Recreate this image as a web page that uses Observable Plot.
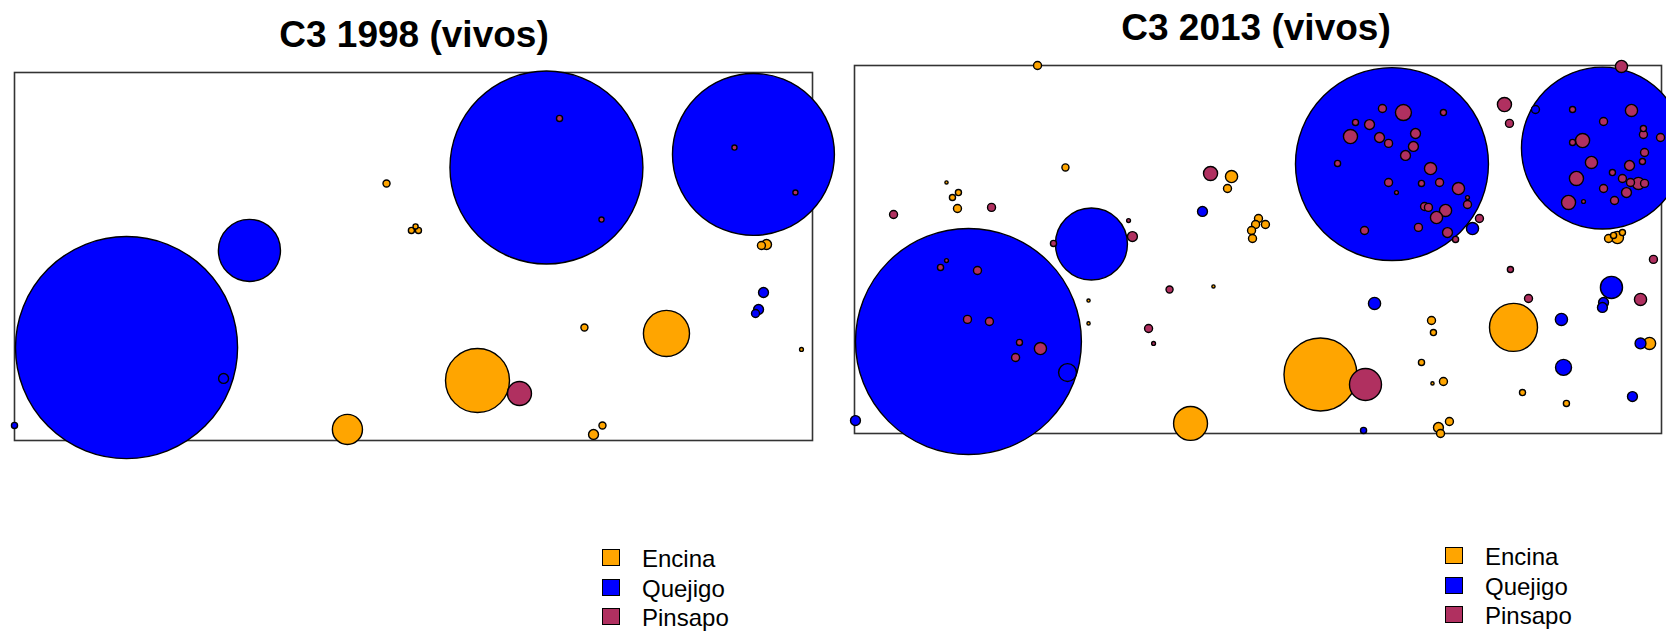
<!DOCTYPE html>
<html>
<head>
<meta charset="utf-8">
<script src="https://cdn.jsdelivr.net/npm/d3@7"></script>
<script src="https://cdn.jsdelivr.net/npm/@observablehq/plot@0.6"></script>
<style>
  html, body { margin: 0; padding: 0; background: #fff; }
  #fig { position: relative; width: 1666px; height: 633px; overflow: hidden;
         font-family: "Liberation Sans", Arial, sans-serif; }
  #fig svg { position: absolute; top: 0; overflow: visible; }
  .titulo { position: absolute; font-weight: bold; font-size: 37px; line-height: 1;
            white-space: nowrap; transform: translateX(-50%); color: #000; }
  .leyenda { position: absolute; font-size: 24px; line-height: 1; color: #000; }
  .fila { position: relative; height: 29.7px; white-space: nowrap; }
  .caja { position: absolute; left: 0; top: 2px; width: 16px; height: 15px;
          border: 1.6px solid #000; }
  .etiqueta { position: absolute; left: 40px; top: 0; }
</style>
</head>
<body>
<div id="fig"></div>
<script>
// Parcela C3: posición de cada pie (m) y radio de copa (m), por especie y año
const especies = ["Encina", "Quejigo", "Pinsapo"];
const colores = ["#FFA500", "#0000FF", "#B03060"];
const titulos = ["C3 1998 (vivos)", "C3 2013 (vivos)"];

// ---- 1998 ----  [x, y, radio]
const encina1998 = [
  [20.86, 0.69, 0.94], [23.31, 16.06, 0.22], [24.87, 13.13, 0.19], [25.31, 13.13, 0.19],
  [25.13, 13.38, 0.16], [47.12, 12.25, 0.31], [46.80, 12.19, 0.25], [49.31, 5.69, 0.12],
  [35.71, 7.06, 0.22], [40.85, 6.69, 1.44], [29.01, 3.75, 2.0], [36.28, 0.38, 0.31],
  [36.84, 0.94, 0.22]
];
const quejigo1998 = [
  [7.02, 5.81, 6.94], [14.72, 11.88, 1.94], [13.10, 3.88, 0.31], [0.0, 0.94, 0.19],
  [33.33, 17.06, 6.03], [46.30, 17.88, 5.06], [46.93, 9.25, 0.31], [46.62, 8.19, 0.31],
  [46.43, 7.94, 0.25]
];
const pinsapo1998 = [
  [31.64, 2.94, 0.75], [34.15, 20.13, 0.19], [36.78, 13.81, 0.16], [45.11, 18.31, 0.16],
  [48.93, 15.5, 0.16]
];

// ---- 2013 ----  [x, y, radio]
const encina2013 = [
  [11.34, 23.0, 0.25], [20.82, 0.63, 1.06], [13.07, 16.63, 0.22], [6.44, 15.06, 0.19],
  [6.07, 14.75, 0.19], [6.38, 14.06, 0.25], [5.70, 15.69, 0.1], [14.50, 8.31, 0.1],
  [14.50, 6.88, 0.1], [22.24, 9.19, 0.1], [23.36, 16.06, 0.38], [23.11, 15.31, 0.25],
  [25.03, 13.44, 0.25], [25.46, 13.06, 0.25], [24.85, 13.06, 0.25], [24.60, 12.69, 0.25],
  [24.66, 12.19, 0.25], [47.27, 12.25, 0.38], [46.72, 12.19, 0.25], [47.58, 12.56, 0.19],
  [47.03, 12.38, 0.19], [49.26, 5.63, 0.38], [35.75, 7.06, 0.25], [35.87, 6.31, 0.19],
  [40.83, 6.63, 1.5], [35.13, 4.44, 0.19], [36.49, 3.25, 0.25], [35.81, 3.13, 0.1],
  [41.39, 2.56, 0.19], [44.11, 1.88, 0.19], [36.18, 0.38, 0.31], [36.86, 0.75, 0.25],
  [36.31, 0.0, 0.25], [28.87, 3.69, 2.28]
];
const quejigo2013 = [
  [7.06, 5.75, 7.06], [14.68, 11.84, 2.25], [13.20, 3.81, 0.56], [0.06, 0.81, 0.31],
  [33.30, 16.84, 6.03], [46.34, 17.84, 5.06], [21.56, 13.88, 0.31], [38.29, 12.81, 0.38],
  [42.19, 20.25, 0.25], [46.90, 9.13, 0.69], [46.41, 8.19, 0.31], [46.34, 7.88, 0.31],
  [32.22, 8.13, 0.38], [43.80, 7.13, 0.38], [43.93, 4.13, 0.5], [48.70, 5.63, 0.34],
  [48.20, 2.31, 0.31], [31.54, 0.19, 0.19]
];
const pinsapo2013 = [
  [31.66, 3.06, 1.0], [5.33, 10.38, 0.19], [5.70, 10.81, 0.12], [7.62, 10.19, 0.25],
  [7.00, 7.13, 0.25], [8.36, 7.0, 0.25], [10.22, 5.69, 0.19], [9.98, 4.75, 0.25],
  [11.52, 5.31, 0.38], [2.42, 13.69, 0.25], [8.49, 14.13, 0.25], [12.33, 11.88, 0.19],
  [17.22, 12.31, 0.31], [16.98, 13.31, 0.12], [19.52, 9.0, 0.22], [18.22, 6.56, 0.25],
  [18.53, 5.63, 0.12], [22.06, 16.25, 0.44],
  [32.71, 20.31, 0.25], [34.01, 20.06, 0.5], [36.49, 20.06, 0.19], [31.04, 19.44, 0.19],
  [31.91, 19.31, 0.31], [30.73, 18.56, 0.44], [32.53, 18.5, 0.31], [33.09, 18.13, 0.25],
  [34.76, 18.75, 0.31], [34.63, 17.94, 0.31], [34.14, 17.38, 0.31], [29.93, 16.88, 0.19],
  [35.69, 16.56, 0.38], [33.09, 15.69, 0.25], [35.13, 15.63, 0.19], [36.25, 15.69, 0.25],
  [33.58, 15.06, 0.12], [37.42, 15.31, 0.38], [37.98, 14.75, 0.12], [37.98, 14.31, 0.25],
  [35.32, 14.19, 0.25], [35.56, 14.13, 0.25], [36.62, 13.94, 0.38], [36.06, 13.5, 0.38],
  [34.94, 12.88, 0.25], [31.60, 12.69, 0.25], [36.74, 12.56, 0.31], [37.24, 12.13, 0.19],
  [38.72, 13.44, 0.25],
  [40.27, 20.56, 0.44], [40.58, 19.38, 0.25], [40.64, 10.25, 0.19], [49.50, 10.88, 0.25],
  [41.76, 8.44, 0.25], [48.70, 8.38, 0.38], [47.52, 22.94, 0.38],
  [44.49, 20.25, 0.19], [48.14, 20.19, 0.38], [46.41, 19.5, 0.25], [48.88, 19.06, 0.19],
  [48.88, 18.69, 0.25], [49.94, 18.5, 0.25], [45.11, 18.31, 0.44], [44.49, 18.19, 0.19],
  [48.95, 17.56, 0.25], [48.82, 17.0, 0.19], [45.66, 16.94, 0.38], [48.02, 16.75, 0.31],
  [46.96, 16.31, 0.19], [44.73, 15.94, 0.44], [47.58, 15.94, 0.25], [48.08, 15.69, 0.25],
  [48.57, 15.63, 0.38], [48.95, 15.63, 0.25], [46.41, 15.31, 0.25], [47.83, 15.06, 0.31],
  [44.24, 14.44, 0.44], [45.17, 14.5, 0.12], [47.09, 14.56, 0.25]
];

const ladoX = [0, 50];   // m
const ladoY = [0, 23];   // m

function pies(encina, quejigo, pinsapo) {
  const filas = [];
  [[encina, "Encina"], [quejigo, "Quejigo"], [pinsapo, "Pinsapo"]].forEach(([lista, sp]) => {
    lista.forEach(([x, y, radio]) => filas.push({x, y, radio, especie: sp}));
  });
  return filas;
}

function parcela(datos, m) {
  return Plot.plot({
    width: m.width, height: 633,
    marginLeft: m.left, marginRight: m.right, marginTop: m.top, marginBottom: m.bottom,
    x: {domain: ladoX, axis: null},
    y: {domain: ladoY, axis: null},
    r: {type: "linear", domain: [0, 1], range: [0, 16]},
    color: {domain: especies, range: colores},
    marks: [
      Plot.frame({stroke: "#333", strokeWidth: 1.6}),
      Plot.dot(datos, {x: "x", y: "y", r: "radio", fill: "especie",
                       stroke: "#000", strokeWidth: 1.4})
    ]
  });
}

const fig = document.getElementById("fig");

const izq = parcela(pies(encina1998, quejigo1998, pinsapo1998),
  {width: 830, left: 14, right: 18, top: 72, bottom: 193});
izq.style.left = "0px";
fig.appendChild(izq);

const der = parcela(pies(encina2013, quejigo2013, pinsapo2013),
  {width: 830, left: 18, right: 5, top: 65, bottom: 200});
der.style.left = "836px";
fig.appendChild(der);

function titulo(texto, cx, top) {
  const d = document.createElement("div");
  d.className = "titulo";
  d.textContent = texto;
  d.style.left = cx + "px";
  d.style.top = top + "px";
  fig.appendChild(d);
}
titulo(titulos[0], 414, 16);
titulo(titulos[1], 1256, 9);

function leyenda(left, top) {
  const l = document.createElement("div");
  l.className = "leyenda";
  l.style.left = left + "px";
  l.style.top = top + "px";
  especies.forEach((sp, i) => {
    const f = document.createElement("div");
    f.className = "fila";
    const c = document.createElement("div");
    c.className = "caja";
    c.style.background = colores[i];
    const t = document.createElement("div");
    t.className = "etiqueta";
    t.textContent = sp;
    f.appendChild(c); f.appendChild(t);
    l.appendChild(f);
  });
  fig.appendChild(l);
}
leyenda(602, 547);
leyenda(1445, 545);
</script>
</body>
</html>
